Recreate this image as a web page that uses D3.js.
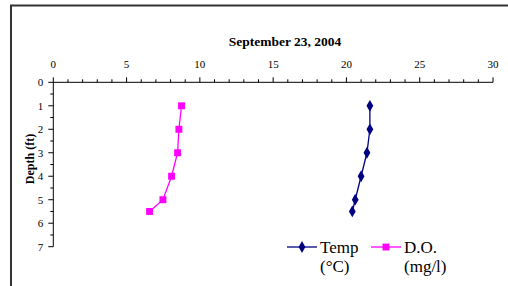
<!DOCTYPE html>
<html>
<head>
<meta charset="utf-8">
<script src="https://cdn.jsdelivr.net/npm/d3@7"></script>
<style>
  body { margin: 0; background: #fff; }
  svg text { font-family: "Liberation Serif", "Times New Roman", serif; }
</style>
</head>
<body>
<svg width="508" height="286"></svg>
<script>
var depths = [1, 2, 3, 4, 5, 5.5];
var temp = [21.6, 21.6, 21.4, 21.0, 20.6, 20.4];
var dissolvedO2 = [8.75, 8.57, 8.48, 8.07, 7.48, 6.57];
var xTicks = [0, 5, 10, 15, 20, 25, 30];
var yTicks = [0, 1, 2, 3, 4, 5, 6, 7];
var title = "September 23, 2004";

var svg = d3.select("svg");

// chart frame (cut off at right and bottom)
svg.append("rect")
    .attr("x", 11).attr("y", 5.5)
    .attr("width", 520).attr("height", 300)
    .attr("fill", "none")
    .attr("stroke", "#333")
    .attr("stroke-width", 2);

var x = d3.scaleLinear().domain([0, 30]).range([53.3, 493]),
    y = d3.scaleLinear().domain([0, 7]).range([82.3, 246.7]);

// top x axis
var gx = svg.append("g").attr("transform", "translate(0," + y(0) + ")");
gx.append("line").attr("x1", x(0)).attr("x2", x(30)).attr("stroke", "#000");
gx.selectAll(".minor").data(d3.range(0, 31))
  .enter().append("line")
    .attr("x1", function(d) { return x(d); })
    .attr("x2", function(d) { return x(d); })
    .attr("y1", 0)
    .attr("y2", function(d) { return d % 5 == 0 ? -5 : -3; })
    .attr("stroke", "#000");
gx.selectAll(".lbl").data(xTicks)
  .enter().append("text")
    .attr("x", function(d) { return x(d); })
    .attr("y", -14)
    .attr("text-anchor", "middle")
    .style("font-size", "11px")
    .text(function(d) { return d; });

// left y axis
var gy = svg.append("g").attr("transform", "translate(" + x(0) + ",0)");
gy.append("line").attr("y1", y(0)).attr("y2", y(7)).attr("stroke", "#000");
gy.selectAll(".tk").data(d3.range(0, 7.01, 0.5))
  .enter().append("line")
    .attr("y1", function(d) { return y(d); })
    .attr("y2", function(d) { return y(d); })
    .attr("x1", function(d) { return d % 1 == 0 ? -5 : -3; })
    .attr("x2", 0)
    .attr("stroke", "#000");
gy.selectAll(".lbl").data(yTicks)
  .enter().append("text")
    .attr("x", -10)
    .attr("y", function(d) { return y(d); })
    .attr("dy", "0.35em")
    .attr("text-anchor", "end")
    .style("font-size", "11px")
    .text(function(d) { return d; });

svg.append("text")
    .attr("x", 285).attr("y", 46)
    .attr("text-anchor", "middle")
    .style("font-size", "13.5px").style("font-weight", "bold")
    .text(title);

svg.append("text")
    .attr("transform", "translate(34,159) rotate(-90)")
    .attr("text-anchor", "middle")
    .style("font-size", "12px").style("font-weight", "bold")
    .text("Depth (ft)");

var series = [
  {name: "Temp", unit: "(\u00b0C)", color: "#000080", shape: d3.symbolDiamond, size: 40, values: temp},
  {name: "D.O.", unit: "(mg/l)", color: "#ff00ff", shape: d3.symbolSquare, size: 48, values: dissolvedO2}
];

var line = d3.line()
    .x(function(d) { return x(d.v); })
    .y(function(d) { return y(d.depth); });

series.forEach(function(s) {
  var pts = depths.map(function(dep, i) { return {depth: dep, v: s.values[i]}; });
  svg.append("path")
      .attr("d", line(pts))
      .attr("fill", "none")
      .attr("stroke", s.color)
      .attr("stroke-width", 1.3);
  svg.selectAll(null).data(pts)
    .enter().append("path")
      .attr("transform", function(d) { return "translate(" + x(d.v) + "," + y(d.depth) + ")"; })
      .attr("d", d3.symbol().type(s.shape).size(s.size))
      .attr("fill", s.color);
});

// legend
var legX = [287, 371];
series.forEach(function(s, i) {
  var g = svg.append("g").attr("transform", "translate(" + legX[i] + ",247)");
  g.append("line").attr("x1", 0).attr("x2", 30).attr("stroke", s.color).attr("stroke-width", 1.3);
  g.append("path").attr("transform", "translate(15,0)")
      .attr("d", d3.symbol().type(s.shape).size(s.size)).attr("fill", s.color);
  g.append("text").attr("x", 33).attr("y", 5.5).style("font-size", "17px").text(s.name);
  g.append("text").attr("x", 33).attr("y", 25).style("font-size", "17px").text(s.unit);
});
</script>
</body>
</html>
